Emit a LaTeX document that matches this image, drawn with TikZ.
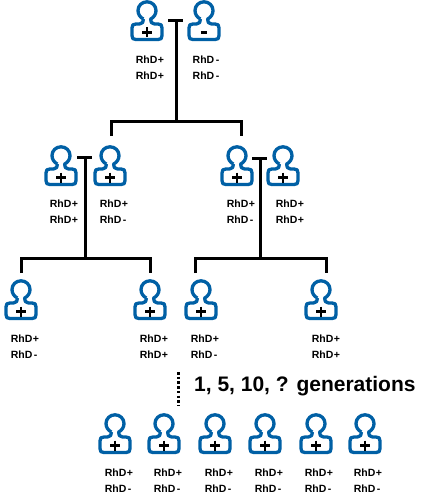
\documentclass[tikz,border=0pt]{standalone}
\usepackage{fontspec}
\setmainfont{Liberation Sans}
\definecolor{iconblue}{RGB}{0,96,165}
\tikzset{
  x=1pt,y=-1pt,
  outline/.style={draw=iconblue,line width=3.3pt,line join=round},
  lineage/.style={draw=black,line width=3pt,line cap=butt,line join=miter},
  geno/.style={font=\bfseries\fontsize{10.5}{15.5}\selectfont,align=left,inner sep=0pt,text=black},
  sign/.style={line width=2.4pt,draw=black}
}
\newcommand{\person}[4]{% x, y, sign(1 plus,0 minus), name
  \coordinate (#4) at (#1,#2);
  \begin{scope}[shift={(#1,#2)}]
    \draw[outline] (-3.6,19)
      .. controls (-7,17.4) and (-9,14) .. (-9,10.6)
      .. controls (-9,5.6) and (-5,1.8) .. (0,1.8)
      .. controls (5,1.8) and (9,5.6) .. (9,10.6)
      .. controls (9,14) and (7,17.4) .. (3.6,19)
      .. controls (3.4,21.8) and (4.5,24) .. (7.5,24)
      -- (11,24) .. controls (14,24) and (15,25) .. (15,28)
      -- (15,35.5) .. controls (15,38.5) and (14,39.5) .. (11,39.5)
      -- (-11,39.5) .. controls (-14,39.5) and (-15,38.5) .. (-15,35.5)
      -- (-15,28) .. controls (-15,25) and (-14,24) .. (-11,24)
      -- (-7.5,24) .. controls (-4.5,24) and (-3.4,21.8) .. (-3.6,19);
    \ifnum#3=1
      \draw[sign] (-5,32.5) -- (5,32.5);
      \draw[sign] (0,27.5) -- (0,37.5);
    \else
      \draw[sign] (-3.2,32.5) -- (3.2,32.5);
    \fi
  \end{scope}
}
\newcommand{\gtxt}[5]{% x,y,l1,l2,name
  \node[geno,anchor=north] (#5) at (#1,#2) {RhD#3\\RhD#4};
}
\begin{document}
\begin{tikzpicture}
\useasboundingbox (0,0) rectangle (425,500);
\fill[white] (0,0) rectangle (425,500);
\def\p{\kern0.5pt+}\def\m{\kern1.5pt-}
% generation 0
\person{147}{0}{1}{a1}\person{204}{0}{0}{a2}
\gtxt{150}{56}{\p}{\p}{ta1}\gtxt{206}{56}{\m}{\m}{ta2}
% generation 1
\person{61}{145}{1}{b1}\person{110}{145}{1}{b2}\person{237}{145}{1}{b3}\person{283}{145}{1}{b4}
\gtxt{64}{200}{\p}{\p}{tb1}\gtxt{114}{200}{\p}{\m}{tb2}\gtxt{241}{200}{\p}{\m}{tb3}\gtxt{290}{200}{\p}{\p}{tb4}
% generation 2
\person{21}{279}{1}{c1}\person{150}{279}{1}{c2}\person{201}{279}{1}{c3}\person{321}{279}{1}{c4}
\gtxt{25}{335}{\p}{\m}{tc1}\gtxt{154}{335}{\p}{\p}{tc2}\gtxt{205}{335}{\p}{\m}{tc3}\gtxt{326}{335}{\p}{\p}{tc4}
% generation n
\person{115}{413}{1}{d1}\person{164}{413}{1}{d2}\person{215}{413}{1}{d3}\person{265}{413}{1}{d4}\person{316}{413}{1}{d5}\person{365}{413}{1}{d6}
\gtxt{119}{469}{\p}{\m}{td1}\gtxt{168}{469}{\p}{\m}{td2}\gtxt{219}{469}{\p}{\m}{td3}\gtxt{269}{469}{\p}{\m}{td4}\gtxt{319}{469}{\p}{\m}{td5}\gtxt{368}{469}{\p}{\m}{td6}
% lineage junctions
\coordinate (ta) at (176,21); \coordinate (tb) at (85,157); \coordinate (tc) at (260,158);
\coordinate (ja) at (176,121); \coordinate (jb) at (85,258); \coordinate (jc) at (260,258);
\draw[lineage] ([xshift=-8pt]ta) -- ([xshift=7pt]ta);
\draw[lineage] ([xshift=-8pt]tb) -- ([xshift=7pt]tb);
\draw[lineage] ([xshift=-8pt]tc) -- ([xshift=7pt]tc);
\draw[lineage] (ta) -- (ja);
\draw[lineage] (111,136) -- (111,121) -- (241,121) -- (241,136);
\draw[lineage] (tb) -- (jb);
\draw[lineage] (21,273) -- (21,258) -- (150,258) -- (150,273);
\draw[lineage] (tc) -- (jc);
\draw[lineage] (195,273) -- (195,258) -- (326,258) -- (326,273);
\draw[draw=black,line width=3pt,dash pattern=on 2.5pt off 2.2pt] (178,372) -- (178,406);
\node[font=\bfseries\fontsize{21}{25}\selectfont,anchor=west,inner sep=0pt] (gen) at (194,386) {1, 5, 10, ? generations};
\end{tikzpicture}
\end{document}
